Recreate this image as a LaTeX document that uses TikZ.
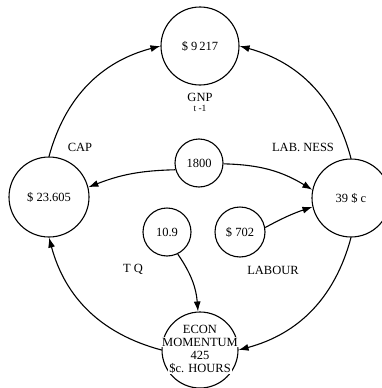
\documentclass[tikz,border=0pt]{standalone}
\usepackage{fontspec}
\setmainfont{Liberation Serif}
\usetikzlibrary{arrows.meta}
\begin{document}
\begin{tikzpicture}[x=1pt,y=-1pt,
  every node/.style={font=\fontsize{12.5}{13}\selectfont},
  stock/.style={draw, circle, line width=1.1pt, inner sep=0pt},
  link/.style={line width=1.1pt, -{Latex[length=10pt,width=7pt]}},
  lbl/.style={inner sep=0pt},
  econline/.style={fill=white, inner xsep=1.5pt, inner ysep=0.5pt}]
\useasboundingbox (0,0) rectangle (382,388);

% stocks on the outer ring
\node[stock, minimum size=78pt] (gnp) at (200,46) {\$ 9\,217};
\node[stock, minimum size=80pt] (cap) at (49,197) {\$ 23.605};
\node[stock, minimum size=78pt] (lab) at (351,198) {39 \$ c};
\node[stock, minimum size=76pt] (econ) at (200,350) {};

% lines of the momentum stock, blanking the ring where they cross it
\node[econline] (econA) at (200,329) {ECON};
\node[econline] (econB) at (200,342) {MOMENTUM};
\node[econline] (econC) at (200,355) {425};
\node[econline] (econD) at (200,368) {\$c. HOURS};

% inner sources
\node[stock, minimum size=48pt] (n1800) at (199,163) {1800};
\node[stock, minimum size=48pt] (tq) at (167,232) {10.9};
\node[stock, minimum size=50pt] (n702) at (240,232) {\$ 702};

% labels
\node[lbl] (gnpA) at (200,97) {GNP};
\node[lbl, font=\fontsize{9.5}{10}\selectfont] (gnpB) at (200,108) {t -1};
\node[lbl] (capL) at (80,147) {CAP};
\node[lbl] (labL) at (303,147) {LAB. NESS};
\node[lbl] (tqL) at (133,269) {T Q};
\node[lbl] (labourL) at (273,270) {LABOUR};

% outer ring flows
\draw[link] (cap.north) to[bend left=30] (gnp.west);
\draw[link] (lab.north) to[bend right=30] (gnp.east);
\draw[link] (econ.west) to[bend left=30] (cap.south);
\draw[link] (lab.south) to[bend left=30] (econ.east);

% inner flows
\draw[link] (n1800.196) to[bend right=10] (cap.14);
\draw[link] (n1800.-2) to[bend left=15] (lab.168);
\draw[link] (n702.10) to[bend left=5] (lab.193);
\draw[link] (tq.-64) to[bend left=15] (econ.93);
\end{tikzpicture}
\end{document}
